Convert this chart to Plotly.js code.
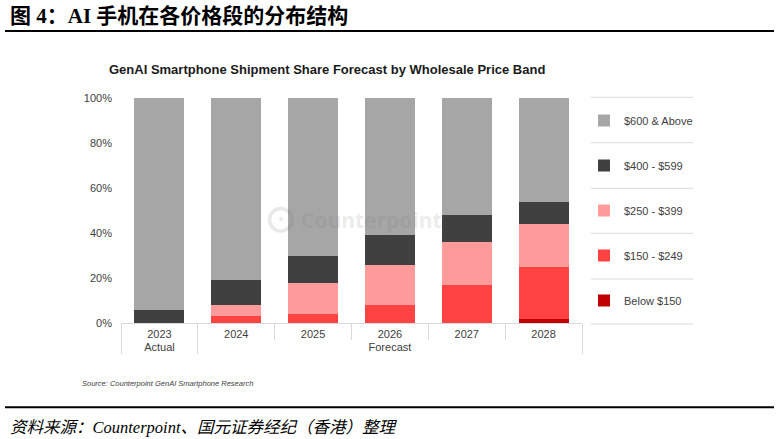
<!DOCTYPE html>
<html><head><meta charset="utf-8">
<script src="https://cdn.plot.ly/plotly-3.0.1.min.js"></script>
<style>html,body{margin:0;padding:0;background:#fff}#chart{width:780px;height:439px}</style>
</head><body><div id="chart"></div>
<script>
// ---- data ----
const years = ["2023", "2024", "2025", "2026", "2027", "2028"];
const periods = ["Actual", "Forecast", "Forecast", "Forecast", "Forecast", "Forecast"];
const below150 = [0, 0, 0, 0, 0, 2];
const band150to249 = [0, 3, 4, 8, 17, 23];
const band250to399 = [0, 5, 14, 18, 19, 19];
const band400to599 = [6, 11, 12, 13, 12, 10];
const band600plus = [94, 81, 70, 61, 52, 46];
const seriesNames = ["Below $150", "$150 - $249", "$250 - $399", "$400 - $599", "$600 & Above"];
const yTickVals = [0, 20, 40, 60, 80, 100];
const yTickText = ["0%", "20%", "40%", "60%", "80%", "100%"];

// ---- styles ----
const seriesColors = ["#c00000", "#ff4343", "#ff9b9b", "#404040", "#a6a6a6"];
const seriesValues = [below150, band150to249, band250to399, band400to599, band600plus];

const W = 780, H = 439;
const M = {l: 121, r: 198, t: 98, b: 116};
const PL = M.l, PR = W - M.r, PT = M.t, PB = H - M.b;
const px = x => (x - PL) / (PR - PL);
const py = y => (PB - y) / (PB - PT);

const traces = seriesNames.map((name, i) => ({
  type: "bar",
  name: name,
  x: [periods, years],
  y: seriesValues[i],
  marker: {color: seriesColors[i], line: {width: 0}},
  legendgroup: "g" + i,
  legendrank: seriesNames.length - i,
  hoverinfo: "skip"
}));

const txt = "#404040";
const sepY = [97.3, 142.7, 188.3, 233.3, 279, 324];
const shapes = sepY.map(y => ({
  type: "line", xref: "paper", yref: "paper",
  x0: px(591), x1: px(693), y0: py(y), y1: py(y),
  line: {color: "#d9d9d9", width: 1}
}));
shapes.push({type: "line", xref: "paper", yref: "paper", x0: px(5), x1: px(774), y0: py(31), y1: py(31), line: {color: "#000", width: 2}});
shapes.push({type: "line", xref: "paper", yref: "paper", x0: px(5), x1: px(774), y0: py(407.3), y1: py(407.3), line: {color: "#000", width: 2}});
// watermark logo
shapes.push({type: "circle", xref: "paper", yref: "paper", layer: "above",
  x0: px(269.5), x1: px(292), y0: py(208.5), y1: py(231), line: {color: "rgba(110,110,110,0.15)", width: 3.5}});
shapes.push({type: "circle", xref: "paper", yref: "paper", layer: "above",
  x0: px(279), x1: px(283), y0: py(217), y1: py(221), fillcolor: "rgba(110,110,110,0.15)", line: {width: 0}});

const annotations = [
  {xref: "paper", yref: "paper", x: px(8), y: py(16), xanchor: "left", yanchor: "middle", showarrow: false,
   text: "<b>图 4：AI 手机在各价格段的分布结构</b>",
   font: {family: "Liberation Serif, Noto Sans CJK SC", size: 21, color: "#000"}},
  {xref: "paper", yref: "paper", x: px(327), y: py(69), xanchor: "center", yanchor: "middle", showarrow: false,
   text: "<b>GenAI Smartphone Shipment Share Forecast by Wholesale Price Band</b>",
   font: {family: "Liberation Sans, Arial", size: 13, color: "#1a1a1a"}},
  {xref: "paper", yref: "paper", x: px(371), y: py(220), xanchor: "center", yanchor: "middle", showarrow: false,
   text: "<b>Counterpoint</b>",
   font: {family: "Open Sans, Noto Sans", size: 21, color: "rgba(110,110,110,0.15)"}},
  {xref: "paper", yref: "paper", x: px(80), y: py(383), xanchor: "left", yanchor: "middle", showarrow: false,
   text: "<i>Source: Counterpoint GenAI Smartphone Research</i>",
   font: {family: "Liberation Sans, Arial", size: 7.5, color: txt}},
  {xref: "paper", yref: "paper", x: px(9), y: py(438.5), xanchor: "left", yanchor: "bottom", showarrow: false,
   borderpad: 0,
   text: "<i>资料来源：Counterpoint、国元证券经纪（香港）整理</i>",
   font: {family: "Liberation Serif, Noto Sans CJK SC", size: 16.5, color: "#000"}}
];

const layout = {
  width: W, height: H,
  margin: M,
  paper_bgcolor: "#fff", plot_bgcolor: "#fff",
  barmode: "stack",
  bargap: 0.35,
  showlegend: true,
  legend: {
    x: px(584), y: py(106), xanchor: "left", yanchor: "top",
    traceorder: "grouped",
    tracegroupgap: 26,
    font: {family: "Liberation Sans, Arial", size: 11, color: txt},
    bgcolor: "rgba(0,0,0,0)"
  },
  xaxis: {
    type: "multicategory",
    showline: true, linecolor: "#d9d9d9", linewidth: 1,
    ticks: "outside", tickson: "boundaries", ticklen: 16, tickcolor: "#d9d9d9",
    ticklabelstandoff: 1,
    showdividers: true, dividercolor: "#d9d9d9", dividerwidth: 1,
    tickfont: {family: "Liberation Sans, Arial", size: 11, color: txt},
    showgrid: false, zeroline: false, fixedrange: true
  },
  yaxis: {
    range: [0, 100],
    tickvals: yTickVals, ticktext: yTickText,
    ticks: "", ticklabelstandoff: 8,
    showgrid: false, zeroline: false, showline: false,
    tickfont: {family: "Liberation Sans, Arial", size: 11, color: txt},
    fixedrange: true
  },
  shapes: shapes,
  annotations: annotations
};

Plotly.newPlot("chart", traces, layout, {displayModeBar: false, staticPlot: true});
</script>
</body></html>
